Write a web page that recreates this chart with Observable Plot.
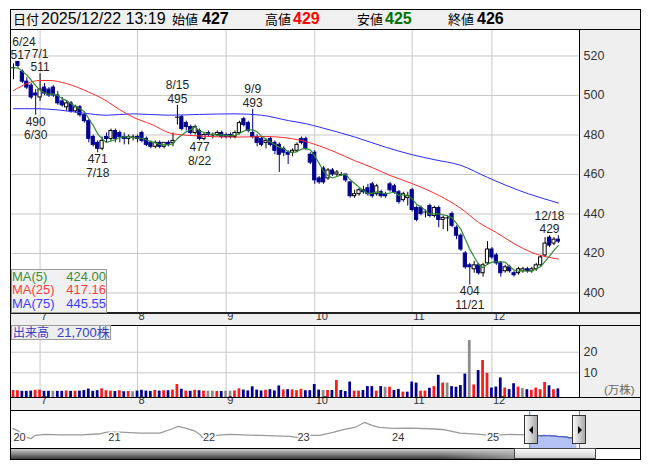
<!DOCTYPE html>
<html><head><meta charset="utf-8">
<script src="https://cdn.jsdelivr.net/npm/d3@7"></script>
<script src="https://cdn.jsdelivr.net/npm/@observablehq/plot@0.6"></script>
<style>
html,body{margin:0;padding:0;background:#fff;}
#root{position:relative;width:653px;height:470px;overflow:hidden;font-family:"Liberation Sans","Noto Sans CJK JP",sans-serif;color:#000;}
#root div.a{position:absolute;box-sizing:border-box;}
#root .t{position:absolute;white-space:nowrap;line-height:18px;}
</style></head><body><div id="root"></div>
<script>
// ---------- data ----------
const juneDays=[23,24,25,26,27,30];
const julyDays=[1,2,3,4,7,8,9,10,11,14,15,16,17,18,22,23,24,25,28,29,30,31];
const augDays=[1,4,5,6,7,8,12,13,14,15,18,19,20,21,22,25,26,27,28,29];
const sepDays=[1,2,3,4,5,8,9,10,11,12,16,17,18,19,22,24,25,26,29,30];
const octDays=[1,2,3,6,7,8,9,10,14,15,16,17,20,21,22,23,24,27,28,29,30,31];
const novDays=[4,5,6,7,10,11,12,13,14,17,18,19,20,21,25,26,27,28];
const decDays=[1,2,3,4,5,8,9,10,11,12,15,16,17,18,19,22];

const opens=[514,517,512,507,505,501,499,504,503,504, 500,497,494,496,492,494,490,487,479,476,
 473,479,478,482,481,479,478,479,479,481, 478,476,474,476,474,476,476,489,489,486,
 484,481,482,478,481,480,480,481,480,480, 479,481,488,486,481,479,478,476,478,476,
 475,473,471,471,472,478,478,470,471,458, 463,458,462,460,460,460,456,449,450,452,
 453,455,450,451,450,455,454,451,447,448, 452,443,443,441,444,439,443,437,438,440,
 433,429,420,414,412,414,410,415,422,419, 415,411,413,410,410,411,412,411,412,414,
 419,428,425,427];
const highs=[516,517,513,509,506,503,511,506,504,505, 502,499,497,497,495,495,491,488,480,477,
 479,481,483,483,482,481,480,480,480,482, 479,477,477,477,476,477,481,495,490,487,
 485,485,483,481,482,481,482,482,481,481, 482,487,489,487,493,480,479,478,479,477,
 476,474,472,473,476,479,479,471,472,459, 464,463,463,462,461,460,456,452,453,454,
 455,456,455,452,451,456,455,452,451,451, 453,444,444,442,445,444,444,439,439,441,
 434,430,421,415,416,415,415,426,423,420, 416,414,414,411,413,413,413,413,415,419,
 428,429,428,429];
const lows=[508,514,506,503,498,490,497,500,499,499, 495,494,492,491,491,489,486,476,474,471,
 472,476,477,476,476,475,475,477,476,476, 474,473,473,473,473,474,474,485,482,482,
 480,480,477,477,479,478,479,478,478,478, 478,480,484,481,478,474,474,473,474,470,
 461,469,465,469,471,475,472,465,455,455, 455,457,459,459,459,456,448,448,449,450,
 449,448,449,448,448,451,450,445,446,444, 441,436,439,438,438,438,433,432,431,433,
 427,421,412,404,410,409,408,414,417,414, 408,410,410,408,409,410,410,410,411,413,
 418,423,424,425];
const closes=[514,515,507,504,499,500,503,501,500,500, 496,495,496,492,494,490,487,478,475,473,
 477,478,482,478,479,478,479,479,478,477, 475,474,476,474,476,475,477,489,483,484,
 481,484,478,480,480,480,481,479,479,479, 481,486,485,482,479,476,475,477,475,472,
 470,471,470,472,475,476,473,466,457,456, 456,462,460,461,460,457,449,450,452,451,
 450,449,454,449,449,452,451,446,450,449, 442,437,440,441,439,443,437,438,438,434,
 429,422,413,413,414,410,414,422,418,415, 410,413,411,409,412,412,411,412,414,418,
 425,424,427,426];
// volume, 万株
const volumes=[1.4,1.3,1.0,1.0,1.1,1.5,1.6,1.0,1.0,1.0, 1.0,1.0,1.2,1.0,1.1,1.1,1.4,2.1,1.0,1.3,
 2.2,1.3,1.1,0.9,1.3,0.8,0.9,0.8,1.1,1.5, 1.1,0.9,1.4,1.1,1.3,1.3,1.6,4.3,2.0,1.1,
 1.0,1.5,1.3,1.1,1.1,1.1,0.9,0.9,1.1,1.1, 1.2,2.2,1.6,1.2,3.2,1.6,1.2,1.5,1.8,1.2,
 3.6,1.7,1.8,1.7,1.3,2.0,1.3,1.3,4.3,1.6, 1.4,1.4,1.4,6.3,1.4,0.9,5.5,1.1,1.1,1.4,
 3.3,3.3,1.1,3.3,3.0,3.0,1.4,1.9,0.6,0.6, 5.5,5.0,1.1,1.1,2.5,3.3,8.8,5.0,5.0,3.3,
 3.0,3.8,9.4,25.7,4.1,11.1,16.0,9.8,2.6,3.1, 7.5,2.6,1.8,4.7,3.1,2.3,1.8,1.5,2.6,1.8,
 5.3,3.7,1.8,2.17];
const prevCloses=[515,516,513,512];
// moving averages: [trading-day index, value]
const ma25Pts=[[0,502.5],[6,507.6],[8,507.6],[12,506],[17,501.7],[20,498.5],[24,492.8],[27,489],[31,485.5],[36,480.6],[42,479.5],[50,478.9],[57,479.2],[65,477.2],[69,474.5],[73,471],[77,467],[81,463.5],[85,459.5],[90,455.4],[96,449.4],[101,442.8],[105,435.7],[109,430.6],[113,425],[117,420.5],[123,417.16]];
const ma75Pts=[[0,493.3],[5,493.3],[10,492.7],[16,491],[21,490],[27,490.7],[35,490],[42,490.4],[50,490.7],[56,490],[62,487.3],[66,485.7],[69,484],[77,479],[84,473.8],[90,470],[95,467.5],[101,464.6],[107,458.5],[114,452],[123,445.55]];
const priceTicks=[400,420,440,460,480,500,520];
const volTicks=[10,20];
const hiLabelDates=["6/24","7/1","8/15","9/9","12/18"];
const loLabelDates=["6/30","7/18","8/22","11/21"];
// long-term navigator (price history since 2020)
const navDates=["2020-01-06","2020-01-28","2020-02-24","2020-03-16","2020-04-01","2020-05-12","2020-07-06","2020-09-24","2020-12-10","2021-01-04","2021-02-24","2021-05-12","2021-07-26","2021-09-13","2021-10-05","2021-10-30","2021-12-10","2021-12-28","2022-01-10","2022-02-24","2022-04-22","2022-08-18","2022-12-10","2023-01-04","2023-02-20","2023-04-05","2023-05-26","2023-07-08","2023-08-18","2023-09-24","2023-10-23","2023-11-21","2024-01-11","2024-03-18","2024-06-03","2024-07-31","2024-09-27","2024-12-13","2025-01-20","2025-04-09","2025-06-06"];
const navValues=[691,611,435,388,485,514,500,500,535,582,582,552,552,682,750,711,611,514,405,485,514,485,455,426,485,485,573,661,720,867,779,720,691,700,682,652,552,514,485,514,500];
const navYears=[2020,2021,2022,2023,2024,2025];

// ---------- derived ----------
const monthDays=[[6,juneDays],[7,julyDays],[8,augDays],[9,sepDays],[10,octDays],[11,novDays],[12,decDays]];
const candles=[];
monthDays.forEach(([m,days])=>days.forEach(d=>{
  const i=candles.length;
  candles.push({i,m,d,label:m+"/"+d,date:new Date(2025,m-1,d),o:opens[i],h:highs[i],l:lows[i],c:closes[i],v:volumes[i]});
}));
candles.forEach((d,i)=>{d.prev=i?closes[i-1]:prevCloses[prevCloses.length-1];});
const monthStarts=candles.filter((d,i)=>i>0&&d.m!==candles[i-1].m);
const allC=prevCloses.concat(closes);
const ma5=closes.map((c,i)=>({i,v:d3.mean(allC.slice(i,i+5))}));
const ma25=ma25Pts.map(([i,v])=>({i,v}));
const ma75=ma75Pts.map(([i,v])=>({i,v}));
const navHist=navDates.map((s,k)=>({date:new Date(s+"T00:00:00"),v:navValues[k]}));
const navAll=navHist.concat(candles.map(d=>({date:d.date,v:d.c})));

const NAVY="#000090", RED="#ff1a1a", GRAY="#8c8c8c";
const X0=-0.4515, X1=127.77, PW=568;
const pxPer=PW/(X1-X0);
const cx=(i,t)=>Math.max(i, X0+(t.length*6.7/2-1)/pxPer);
const byLabel=s=>candles.find(d=>d.label===s);
const hiL=hiLabelDates.map(s=>{const d=byLabel(s);return {i:d.i,y:d.h,date:s,val:String(d.h)};});
const loL=loLabelDates.map(s=>{const d=byLabel(s);return {i:d.i,y:d.l,date:s,val:String(d.l)};});

const FONT='"Liberation Sans","Noto Sans CJK JP",sans-serif';
const baseStyle={background:"transparent",overflow:"visible",fontFamily:FONT};

// ---------- price panel ----------
const annot={fontSize:12,fill:"#222",fontFamily:FONT};
const pricePlot=Plot.plot({
  width:629,height:295,marginLeft:0,marginRight:61,marginTop:0,marginBottom:12,
  x:{domain:[X0,X1],axis:null},
  y:{domain:[389.6,532.9],axis:null},
  style:baseStyle,
  marks:[
    Plot.ruleY(priceTicks,{stroke:"#c8c8c8"}),
    Plot.ruleX(monthStarts,{x:"i",stroke:"#c8c8c8"}),
    Plot.ruleX(candles,{x:"i",y1:"l",y2:"h",stroke:d=>d.c<d.o?NAVY:"#000"}),
    Plot.rect(candles.filter(d=>d.c!==d.o),{x1:d=>d.i-0.36,x2:d=>d.i+0.36,y1:"o",y2:"c",
      fill:d=>d.c>d.o?"#fff":NAVY,stroke:d=>d.c>d.o?"#000":NAVY,strokeWidth:1}),
    Plot.ruleY(candles.filter(d=>d.c===d.o),{y:"c",x1:d=>d.i-0.45,x2:d=>d.i+0.45,stroke:"#000"}),
    Plot.line(ma75,{x:"i",y:"v",stroke:"#2a2aff",strokeWidth:1,curve:"monotone-x"}),
    Plot.line(ma25,{x:"i",y:"v",stroke:"#ff2a2a",strokeWidth:1,curve:"monotone-x"}),
    Plot.line(ma5,{x:"i",y:"v",stroke:"#2f8a2f",strokeWidth:1.2}),
    Plot.text(hiL,{x:d=>cx(d.i,d.date),y:"y",text:"date",dy:-20,...annot}),
    Plot.text(hiL,{x:d=>cx(d.i,d.val),y:"y",text:"val",dy:-6.5,...annot}),
    Plot.text(loL,{x:d=>cx(d.i,d.val),y:"y",text:"val",dy:6.5,...annot}),
    Plot.text(loL,{x:d=>cx(d.i,d.date),y:"y",text:"date",dy:20,...annot}),
    Plot.text(priceTicks,{y:d=>d,frameAnchor:"right",textAnchor:"start",dx:4,text:d=>String(d),fontSize:12.5,fill:"#333",fontFamily:FONT}),
    Plot.text(monthStarts,{x:"i",frameAnchor:"bottom",textAnchor:"start",dx:1,dy:6.5,text:d=>String(d.m),fontSize:11,fill:"#333",fontFamily:FONT})
  ]
});

// ---------- volume panel ----------
const volPlot=Plot.plot({
  width:629,height:85,marginLeft:0,marginRight:61,marginTop:0,marginBottom:13,
  x:{domain:[X0,X1],axis:null},
  y:{domain:[-2,33],axis:null},
  style:baseStyle,
  marks:[
    Plot.ruleY(volTicks,{stroke:"#c8c8c8"}),
    Plot.ruleX(monthStarts,{x:"i",stroke:"#c8c8c8"}),
    Plot.rect(candles,{x1:d=>d.i-0.31,x2:d=>d.i+0.31,y1:-2,y2:"v",
      fill:d=>d.c>d.prev?RED:d.c<d.prev?NAVY:GRAY}),
    Plot.text(volTicks,{y:d=>d,frameAnchor:"right",textAnchor:"start",dx:4,text:d=>String(d),fontSize:12.5,fill:"#333",fontFamily:FONT}),
    Plot.text(monthStarts,{x:"i",frameAnchor:"bottom",textAnchor:"start",dx:1,dy:6.5,text:d=>String(d.m),fontSize:11,fill:"#333",fontFamily:FONT})
  ]
});

// ---------- navigator ----------
const navStart=new Date(2020,0,1), navEnd=new Date(2026,0,1);
const navPlot=Plot.plot({
  width:568,height:38,margin:0,
  x:{type:"time",domain:[navStart,navEnd],axis:null},
  y:{domain:[100,1220],axis:null},
  style:baseStyle,
  marks:[
    Plot.areaY(candles,{x:"date",y1:100,y2:"c",fill:"#b3c2f2"}),
    Plot.line(navAll,{x:"date",y:"v",stroke:"#9a9a9a",strokeWidth:1.3}),
    Plot.line(candles,{x:"date",y:"c",stroke:"#4a64c8",strokeWidth:1.2}),
    Plot.ruleX([candles[0].date,navEnd],{stroke:"#2aa0d8"}),
    Plot.text(navYears,{x:y=>new Date(y,0,1),frameAnchor:"bottom",textAnchor:"start",dx:2,dy:-8,
      text:y=>String(y).slice(2),fontSize:11,fill:"#333",stroke:"#fff",strokeWidth:3,fontFamily:FONT})
  ]
});

// ---------- assemble ----------
const root=document.getElementById("root");
function box(l,t,w,h,css){const d=document.createElement("div");d.className="a";d.style.cssText=`left:${l}px;top:${t}px;width:${w}px;height:${h}px;${css||""}`;root.appendChild(d);return d;}
function txt(l,t,s,css){const d=document.createElement("div");d.className="t";d.style.cssText=`left:${l}px;top:${t}px;${css||""}`;d.textContent=s;root.appendChild(d);return d;}
function place(svg,l,t){svg.style.position="absolute";svg.style.left=l+"px";svg.style.top=t+"px";svg.style.maxWidth="none";root.appendChild(svg);}

// backgrounds
box(11,10,629,20,"background:#f0f0f0");
box(580,30,60,283,"background:#efefef");
box(11,312,629,13,"background:#efefef");
box(580,325,60,72,"background:#efefef");
box(11,397,629,13,"background:#efefef");
box(580,410,60,38,"background:#efefef");

place(pricePlot,11,30);
place(volPlot,11,325);
place(navPlot,11,410);

// frame lines
box(11,29,629,1,"background:#000");
box(579,30,1,283,"background:#000");
box(11,312,629,2,"background:#222");
box(11,325,629,1,"background:#000");
box(579,325,1,72,"background:#000");
box(11,397,629,1,"background:#000");
box(11,410,629,1,"background:#000");
box(11,448,629,1,"background:#000");

// scrollbar
box(11,449,503,10,"background:linear-gradient(to bottom,#cfcfcf,#3a3a3a)");
box(440,449,74,10,"background:linear-gradient(to right,rgba(200,200,200,0),rgba(200,200,200,0.55))");
box(514,448,82,11,"background:linear-gradient(to bottom,#fbfbfb,#cdcdcd);border:1px solid #444");

// navigator handles
const hl=box(524,415,14,29,"background:linear-gradient(to right,#fafafa,#a8a8a8);border:1px solid #333");
hl.innerHTML='<div style="position:absolute;left:4px;top:10px;width:0;height:0;border-top:4px solid transparent;border-bottom:4px solid transparent;border-right:4px solid #000"></div>';
const hr=box(572,415,14,29,"background:linear-gradient(to right,#fafafa,#a8a8a8);border:1px solid #333");
hr.innerHTML='<div style="position:absolute;left:5px;top:10px;width:0;height:0;border-top:4px solid transparent;border-bottom:4px solid transparent;border-left:4px solid #000"></div>';

// header
txt(13,11,"日付","font-size:13px");
txt(41,10,"2025/12/22 13:19","font-size:16px");
txt(172,11,"始値","font-size:13px");
txt(202,10,"427","font-size:16px;font-weight:bold");
txt(265,11,"高値","font-size:13px");
txt(293,10,"429","font-size:16px;font-weight:bold;color:#ff0000");
txt(357,11,"安値","font-size:13px");
txt(385,10,"425","font-size:16px;font-weight:bold;color:#007000");
txt(448,11,"終値","font-size:13px");
txt(477,10,"426","font-size:16px;font-weight:bold");

// MA legend
box(11,269,96,44,"background:rgba(240,240,240,0.95);border:1px solid #999");
const legend=[["MA(5)","424.00","#3c8c3c"],["MA(25)","417.16","#ff3c3c"],["MA(75)","445.55","#3c3cff"]];
legend.forEach(([a,b,c],k)=>{
  txt(12,269.5+k*13.5,a,`font-size:13px;line-height:13.5px;color:${c}`);
  txt(56,269.5+k*13.5,b,`font-size:13px;line-height:13.5px;color:${c};width:50px;text-align:right`);
});

// volume label
box(11,325,100,15,"background:#eeeeee;border:1px solid #999");
txt(13,325.5,"出来高","font-size:12px;line-height:14px;color:#3b3bc0");
txt(57,325.5,"21,700株","font-size:13px;line-height:14px;color:#3b3bc0");
txt(604,382,"(万株)","font-size:11.5px;line-height:17px;color:#666");

// outer border
box(10,9,631,451,"border:1px solid #000");
</script></body></html>
